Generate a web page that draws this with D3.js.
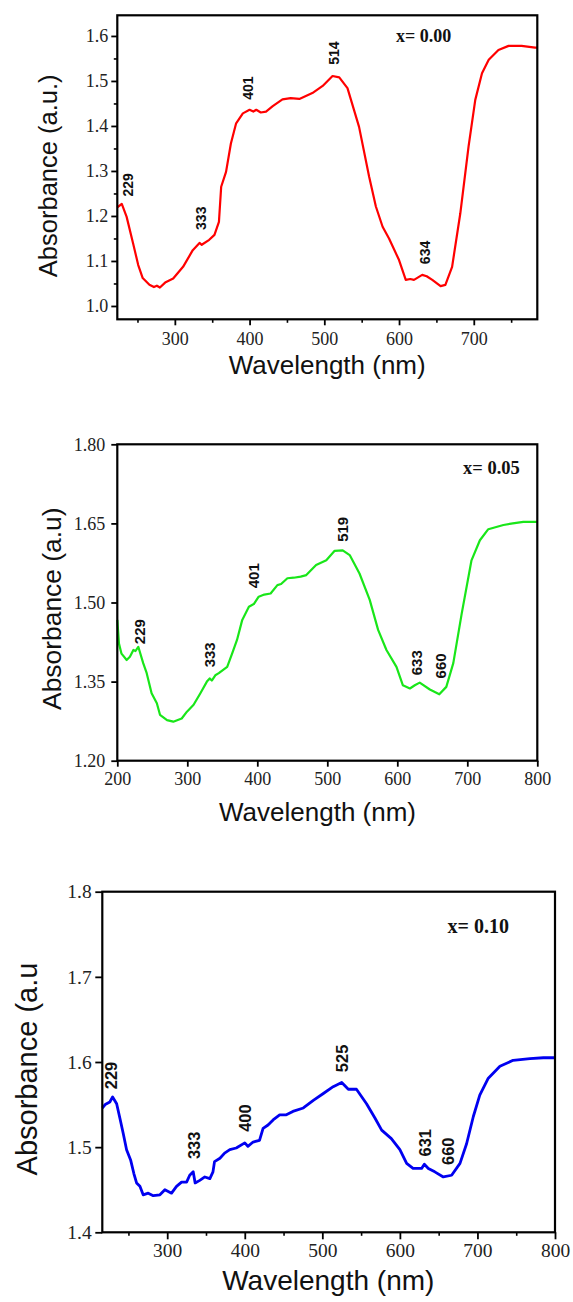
<!DOCTYPE html>
<html lang="en">
<head>
<meta charset="UTF-8">
<title>Absorbance spectra</title>
<script src="https://d3js.org/d3.v7.min.js"></script>
<style>
  body { margin: 0; background: #fff; }
  .axis-title { font-family: "Liberation Sans", Arial, sans-serif; fill: #111; }
  .peak { font-family: "Liberation Sans", Arial, sans-serif; font-weight: bold; fill: #111; }
  .sample { font-family: "Liberation Serif", "Times New Roman", serif; font-weight: bold; fill: #111; }
</style>
</head>
<body>
<div id="chart"></div>
<script>
// spectra (wavelength nm / absorbance)
var wl1 = [223, 229, 235.5, 244, 251, 257, 266, 272, 276, 280, 287, 297.8, 311, 324, 333, 336, 346, 353, 359, 362,
  368.5, 375, 382, 391, 400, 405, 409, 415, 422, 431, 444, 455, 466.6, 484, 497.8, 511, 520, 531, 546.5, 560,
  569, 578, 586.6, 600, 609, 615, 620, 631, 637, 644.5, 655.6, 662, 671, 682, 693, 702, 711, 720, 733, 746.6,
  764, 782, 785];
var abs1 = [1.219, 1.227, 1.198, 1.14, 1.091, 1.062, 1.047, 1.042, 1.045, 1.041, 1.052, 1.061, 1.087, 1.124, 1.14, 1.136, 1.147, 1.158, 1.187, 1.265,
  1.298, 1.361, 1.406, 1.428, 1.436, 1.432, 1.436, 1.430, 1.432, 1.444, 1.459, 1.462, 1.460, 1.473, 1.489, 1.511, 1.508, 1.484, 1.398, 1.287,
  1.221, 1.176, 1.150, 1.102, 1.058, 1.060, 1.058, 1.069, 1.066, 1.058, 1.044, 1.047, 1.087, 1.206, 1.354, 1.458, 1.517, 1.547, 1.569, 1.578,
  1.578, 1.574, 1.574];

var wl2 = [200, 202.4, 206, 213.4, 218, 223, 226, 230, 237, 242, 249, 256.5, 261, 271, 280, 292, 299.5, 309, 318.7, 328,
  332, 335, 340, 345, 357, 364, 371, 378.5, 388, 395, 402, 410, 419, 428.7, 434, 443, 452, 462, 470, 484,
  498.6, 510.5, 522, 532, 546, 560.6, 572.6, 584.5, 598.8, 608, 618, 625, 632, 646.5, 660, 670, 680, 692, 706, 718,
  730, 751.6, 765, 780, 800];
var abs2 = [1.467, 1.422, 1.403, 1.391, 1.397, 1.410, 1.408, 1.416, 1.385, 1.366, 1.328, 1.309, 1.287, 1.277, 1.274, 1.280, 1.293, 1.306, 1.328, 1.350,
  1.356, 1.352, 1.362, 1.366, 1.378, 1.403, 1.429, 1.467, 1.492, 1.497, 1.511, 1.515, 1.517, 1.533, 1.535, 1.546, 1.547, 1.549, 1.552, 1.571,
  1.580, 1.598, 1.599, 1.590, 1.555, 1.505, 1.448, 1.410, 1.378, 1.343, 1.337, 1.343, 1.348, 1.335, 1.326, 1.340, 1.385, 1.479, 1.580, 1.618,
  1.639, 1.647, 1.650, 1.653, 1.653];

var wl3 = [216.3, 220, 226, 229.6, 234.8, 239, 243.3, 247.6, 252.8, 257, 260.5, 264.8, 269, 275.5, 282, 290.6, 297, 305.6, 312, 318.5,
  325, 329, 333.5, 336, 342, 348.5, 355, 359, 361, 368, 374, 380.7, 389, 400, 404, 410.7, 419, 423.6, 430, 436.5,
  445, 453.6, 462, 475.5, 488.4, 501.3, 514, 525, 533.5, 544, 557, 568, 576.5, 589, 600, 608.7, 617, 628, 631.5, 636.7,
  645, 656, 666.7, 677.5, 686, 694.7, 703, 714, 729, 746, 767.7, 785, 800];
var abs3 = [1.546, 1.550, 1.553, 1.559, 1.551, 1.534, 1.516, 1.497, 1.485, 1.469, 1.458, 1.454, 1.444, 1.446, 1.443, 1.444, 1.450, 1.446, 1.454, 1.459,
  1.459, 1.467, 1.471, 1.458, 1.461, 1.465, 1.463, 1.471, 1.483, 1.487, 1.493, 1.497, 1.499, 1.505, 1.501, 1.506, 1.508, 1.522, 1.526, 1.532,
  1.538, 1.538, 1.542, 1.546, 1.555, 1.563, 1.571, 1.576, 1.568, 1.568, 1.551, 1.534, 1.520, 1.510, 1.497, 1.481, 1.475, 1.475, 1.480, 1.475,
  1.471, 1.465, 1.467, 1.481, 1.504, 1.536, 1.561, 1.581, 1.595, 1.602, 1.604, 1.605, 1.605];

// peak labels: text, wavelength of label centre, absorbance at label foot
var peaks1 = [["229", 236.9, 1.243], ["333", 335.5, 1.169], ["401", 397.7, 1.458], ["514", 513.3, 1.536], ["634", 634.3, 1.093]];
var peaks2 = [["229", 231.6, 1.421], ["333", 332, 1.377], ["401", 395, 1.527], ["519", 522.4, 1.615], ["633", 628.4, 1.362], ["660", 661.8, 1.356]];
var peaks3 = [["229", 228.3, 1.568], ["333", 334.3, 1.486], ["400", 400, 1.518], ["525", 526.2, 1.588], ["631", 632.4, 1.489], ["660", 662.4, 1.479]];

// sample tags: text, centre wavelength, centre absorbance
var tag1 = ["x= 0.00", 632.9, 1.600];
var tag2 = ["x= 0.05", 734.4, 1.756];
var tag3 = ["x= 0.10", 701, 1.760];

// ticks
var xTicks1 = [300, 400, 500, 600, 700];
var xMinor1 = [250, 350, 450, 550, 650, 750];
var yTicks1 = [1.0, 1.1, 1.2, 1.3, 1.4, 1.5, 1.6];
var yMinor1 = [1.05, 1.15, 1.25, 1.35, 1.45, 1.55];
var xTicks2 = [200, 300, 400, 500, 600, 700, 800];
var yTicks2 = [1.20, 1.35, 1.50, 1.65, 1.80];
var xTicks3 = [300, 400, 500, 600, 700, 800];
var xMinor3 = [250, 350, 450, 550, 650, 750];
var yTicks3 = [1.4, 1.5, 1.6, 1.7, 1.8];

var svg = d3.select("#chart").append("svg")
    .attr("width", 573)
    .attr("height", 1302);

var serif = '"Liberation Serif", "Times New Roman", serif';

var panels = [
  { wl: wl1, ab: abs1, color: "#ff0000", lw: 2.2,
    box: [117.3, 15.3, 537.3, 319.3], xd: [223, 785], yd: [0.9704, 1.6459],
    xt: xTicks1, xm: xMinor1, yt: yTicks1, ym: yMinor1, fmt: ".1f",
    tickFont: 18, tickLen: 6, yPad: 3, xLabY: 25.7,
    yTitle: "Absorbance (a.u.)", yTitleX: 57.3, yTitleY: 175.8, yTitleSize: 25.5,
    xTitleX: 327.2, xTitleY: 374, xTitleSize: 26,
    peaks: peaks1, peakSize: 14, tag: tag1, tagSize: 18 },
  { wl: wl2, ab: abs2, color: "#19e619", lw: 2.2,
    box: [117.3, 444.3, 537.3, 760.7], xd: [200, 800], yd: [1.2, 1.8],
    xt: xTicks2, xm: [], yt: yTicks2, ym: [], fmt: ".2f",
    tickFont: 18, tickLen: 6, yPad: 6, xLabY: 24.3,
    yTitle: "Absorbance (a.u)", yTitleX: 60.7, yTitleY: 608.7, yTitleSize: 26.4,
    xTitleX: 317.5, xTitleY: 821, xTitleSize: 26,
    peaks: peaks2, peakSize: 15, tag: tag2, tagSize: 18.5 },
  { wl: wl3, ab: abs3, color: "#0000f0", lw: 2.8,
    box: [102.3, 891.7, 555, 1232.3], xd: [216.3, 800], yd: [1.4, 1.8],
    xt: xTicks3, xm: xMinor3, yt: yTicks3, ym: [], fmt: ".1f",
    tickFont: 19.5, tickLen: 7, yPad: 3.6, xLabY: 24.4,
    yTitle: "Absorbance (a.u", yTitleX: 37.3, yTitleY: 1069, yTitleSize: 29,
    xTitleX: 328.3, xTitleY: 1290, xTitleSize: 28,
    peaks: peaks3, peakSize: 16.5, tag: tag3, tagSize: 20 }
];

panels.forEach(function(p) {
  var x0 = p.box[0], y0 = p.box[1], x1 = p.box[2], y1 = p.box[3];
  var x = d3.scaleLinear().domain(p.xd).range([x0, x1]);
  var y = d3.scaleLinear().domain(p.yd).range([y1, y0]);

  // minor ticks
  svg.append("g")
    .attr("transform", "translate(0," + y1 + ")")
    .call(d3.axisBottom(x).tickValues(p.xm).tickSize(3.5).tickFormat(""))
    .call(function(g) { g.select(".domain").remove(); })
    .selectAll("line").attr("stroke-width", 1.6);
  svg.append("g")
    .attr("transform", "translate(" + x0 + ",0)")
    .call(d3.axisLeft(y).tickValues(p.ym).tickSize(3.5).tickFormat(""))
    .call(function(g) { g.select(".domain").remove(); })
    .selectAll("line").attr("stroke-width", 1.6);

  // major ticks
  var gx = svg.append("g")
    .attr("transform", "translate(0," + y1 + ")")
    .call(d3.axisBottom(x).tickValues(p.xt).tickSize(p.tickLen).tickFormat(d3.format("d")));
  gx.select(".domain").remove();
  gx.selectAll("line").attr("stroke-width", 1.8);
  gx.selectAll("text").attr("y", p.xLabY).attr("dy", null)
    .attr("fill", "#222")
    .style("font-family", serif)
    .style("font-size", p.tickFont + "px");

  var gy = svg.append("g")
    .attr("transform", "translate(" + x0 + ",0)")
    .call(d3.axisLeft(y).tickValues(p.yt).tickSize(p.tickLen).tickPadding(p.yPad).tickFormat(d3.format(p.fmt)));
  gy.select(".domain").remove();
  gy.selectAll("line").attr("stroke-width", 1.8);
  gy.selectAll("text")
    .attr("fill", "#222")
    .style("font-family", serif)
    .style("font-size", p.tickFont + "px");

  // spectrum
  var pts = p.wl.map(function(w, i) { return [w, p.ab[i]]; });
  svg.append("path")
    .datum(pts)
    .attr("fill", "none")
    .attr("stroke", p.color)
    .attr("stroke-width", p.lw)
    .attr("stroke-linejoin", "round")
    .attr("d", d3.line().x(function(d) { return x(d[0]); }).y(function(d) { return y(d[1]); }));

  // frame
  svg.append("rect")
    .attr("x", x0).attr("y", y0)
    .attr("width", x1 - x0).attr("height", y1 - y0)
    .attr("fill", "none").attr("stroke", "#000").attr("stroke-width", 2.2);

  // peak labels
  svg.selectAll(null)
    .data(p.peaks)
    .enter().append("text")
    .attr("class", "peak")
    .attr("transform", function(d) { return "translate(" + x(d[1]) + "," + y(d[2]) + ") rotate(-90)"; })
    .attr("dy", "0.35em")
    .style("font-size", p.peakSize + "px")
    .text(function(d) { return d[0]; });

  // sample tag
  svg.append("text")
    .attr("class", "sample")
    .attr("x", x(p.tag[1])).attr("y", y(p.tag[2]))
    .attr("dy", "0.35em")
    .attr("text-anchor", "middle")
    .style("font-size", p.tagSize + "px")
    .text(p.tag[0]);

  // axis titles
  svg.append("text")
    .attr("class", "axis-title")
    .attr("transform", "translate(" + p.yTitleX + "," + p.yTitleY + ") rotate(-90)")
    .attr("text-anchor", "middle")
    .style("font-size", p.yTitleSize + "px")
    .text(p.yTitle);
  svg.append("text")
    .attr("class", "axis-title")
    .attr("x", p.xTitleX).attr("y", p.xTitleY)
    .attr("text-anchor", "middle")
    .style("font-size", p.xTitleSize + "px")
    .text("Wavelength (nm)");
});
</script>
</body>
</html>
